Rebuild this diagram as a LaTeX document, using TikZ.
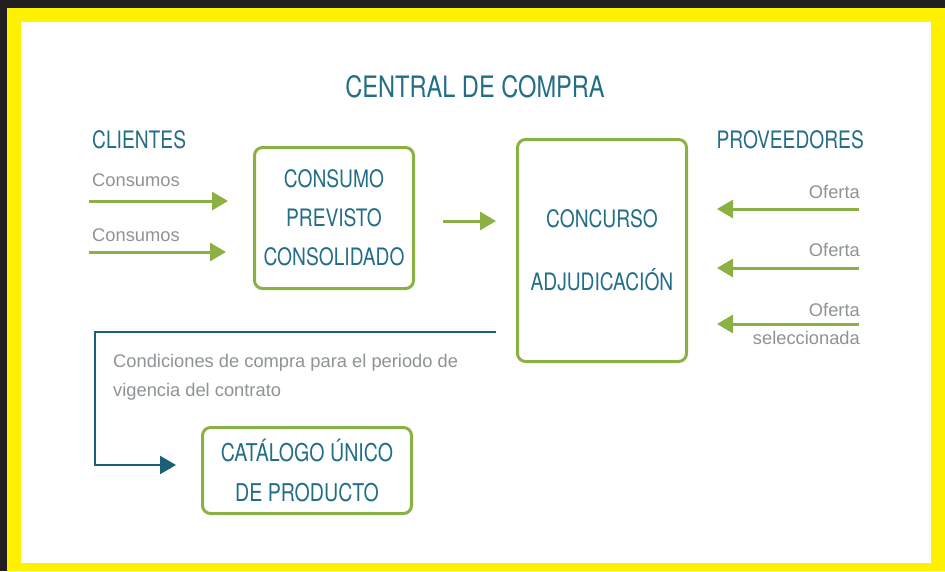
\documentclass[tikz,border=0pt]{standalone}
\usepackage{fontspec}
\setmainfont{Liberation Sans}
\newfontfamily\condfont[FakeStretch=0.8]{TeX Gyre Heros}
\usetikzlibrary{arrows.meta}
\definecolor{tealtxt}{HTML}{236E87}
\definecolor{greenln}{HTML}{8BB043}
\definecolor{blueln}{HTML}{1C5F78}
\definecolor{graytxt}{HTML}{8E9396}
\definecolor{yframe}{HTML}{FFF200}
\definecolor{darkbg}{HTML}{231F20}
\tikzset{
  stagebox/.style={draw=greenln, line width=3pt, rounded corners=8pt, inner sep=0pt,
    align=center, text=tealtxt, font=\condfont\fontsize{24}{39}\selectfont},
  garrow/.style={draw=greenln, line width=3pt, -{Triangle[length=16pt,width=18pt]}},
  barrow/.style={draw=blueln, line width=2.5pt, -{Triangle[length=16pt,width=18pt]}},
  gtext/.style={text=graytxt, font=\fontsize{18.3}{29}\selectfont, inner sep=0pt},
  tlabel/.style={text=tealtxt, font=\condfont\fontsize{24}{28}\selectfont, inner sep=0pt}
}
\begin{document}
\begin{tikzpicture}[x=1pt,y=-1pt]
\useasboundingbox (0,0) rectangle (945,571);
\fill[darkbg] (0,0) rectangle (945,571);
\fill[yframe] (7,8) rectangle (945,571);
\fill[white] (21,22) rectangle (931,563);

% titles
\node[tlabel, anchor=base, font=\condfont\fontsize{29.5}{34}\selectfont] (title) at (475,97) {CENTRAL DE COMPRA};
\node[tlabel, anchor=base west] (clientes) at (92,148) {CLIENTES};
\node[tlabel, anchor=base east] (prov) at (864,148) {PROVEEDORES};

% boxes
\node[stagebox, minimum width=159pt, minimum height=141pt] (box1) at (334,218) {CONSUMO\\PREVISTO\\CONSOLIDADO};
\node[stagebox, minimum width=169pt, minimum height=222pt, font=\condfont\fontsize{24}{63}\selectfont] (box2) at (602,250.5) {CONCURSO\\ADJUDICACIÓN};
\node[stagebox, minimum width=209pt, minimum height=86pt, font=\condfont\fontsize{24.5}{40}\selectfont] (box3) at (307,470.5) {CATÁLOGO ÚNICO\\DE PRODUCTO};

% gray labels
\node[gtext, anchor=base west] (cons1) at (92,186.5) {Consumos};
\node[gtext, anchor=base west] (cons2) at (92,241) {Consumos};
\node[gtext, anchor=base east] (of1) at (860,198.5) {Oferta};
\node[gtext, anchor=base east] (of2) at (860,256.5) {Oferta};
\node[gtext, anchor=base east] (of3) at (860,316.5) {Oferta};
\node[gtext, anchor=base east] (sel) at (860,344) {seleccionada};
\node[gtext, anchor=base west] (cond1) at (113,367) {Condiciones de compra para el periodo de};
\node[gtext, anchor=base west] (cond2) at (113,396) {vigencia del contrato};

% connectors
\coordinate (c1s) at (89,201);
\coordinate (c2s) at (89,252);
\draw[garrow, shorten >=25pt] (c1s) -- (c1s -| box1.west);
\draw[garrow, shorten >=27pt] (c2s) -- (c2s -| box1.west);
\coordinate (mid) at (0,221);
\draw[garrow, shorten <=28pt, shorten >=20pt] (box1.east |- mid) -- (box2.west |- mid);
\coordinate (o1) at (859,209);
\coordinate (o2) at (859,268);
\coordinate (o3) at (859,324);
\draw[garrow, shorten >=29pt] (o1) -- (o1 -| box2.east);
\draw[garrow, shorten >=29pt] (o2) -- (o2 -| box2.east);
\draw[garrow, shorten >=29pt] (o3) -- (o3 -| box2.east);
\coordinate (bc) at (95,332);
\coordinate (bt) at (0,465);
\draw[barrow, shorten >=25pt] ([xshift=-20pt]box2.west |- bc) -- (bc) |- (box3.west |- bt);
\end{tikzpicture}
\end{document}
